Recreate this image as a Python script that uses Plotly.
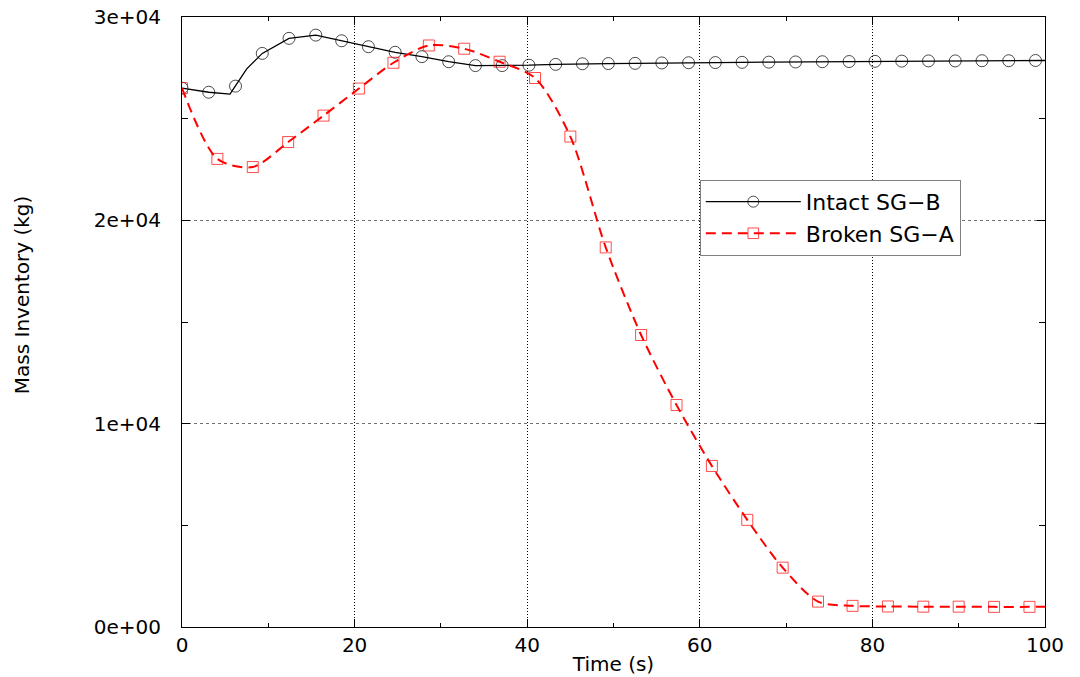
import plotly.graph_objects as go

# ---- data ----
# Intact SG-B (black, circles); marker size 0 = point on the line without a marker
t_intact = [0, 3.1, 5.56, 6.2, 7.5, 9.3, 12.4, 15.5, 18.5, 21.6, 24.7, 27.8, 30.9,
            34.0, 37.1, 40.2, 43.3, 46.4, 49.4, 52.5, 55.6, 58.7, 61.8, 64.9,
            68.0, 71.1, 74.2, 77.3, 80.3, 83.4, 86.5, 89.6, 92.7, 95.8, 98.9, 100]
m_intact = [26500, 26300, 26210, 26600, 27450, 28210, 28950, 29110, 28830, 28540,
            28265, 28050, 27800, 27610, 27610, 27630, 27670, 27700, 27710, 27720,
            27740, 27750, 27760, 27770, 27780, 27790, 27800, 27810, 27820, 27830,
            27840, 27840, 27850, 27850, 27860, 27860]
show_intact = [1, 1, 0, 1, 0] + [1] * 30 + [0]

# Broken SG-A (red, squares)
t_broken = [0, 4.1, 8.2, 12.3, 16.4, 20.5, 24.5, 28.6, 32.7, 36.8, 40.9, 45.0,
            49.1, 53.2, 57.3, 61.4, 65.5, 69.6, 73.7, 77.7, 81.8, 85.9, 90.0,
            94.1, 98.2, 100]
m_broken = [26500, 23020, 22620, 23850, 25150, 26480, 27750, 28600, 28440, 27800,
            27000, 24120, 18670, 14360, 10920, 7920, 5270, 2920, 1250, 1040, 1010,
            1000, 1000, 990, 990, 990]
show_broken = [1] * 25 + [0]

x_ticks = [0, 20, 40, 60, 80, 100]
x_minor = [10, 30, 50, 70, 90]
y_ticks = [0, 10000, 20000, 30000]
y_ticktext = ["0e+00", "1e+04", "2e+04", "3e+04"]
y_minor = [5000, 15000, 25000]

FONT = "DejaVu Sans"

fig = go.Figure()
fig.add_trace(go.Scatter(
    x=t_intact, y=m_intact, name="Intact SG\u2212B", mode="lines+markers",
    line=dict(color="black", width=1.3),
    marker=dict(symbol="circle-open", size=[12 * s for s in show_intact],
                color="black", line=dict(width=1, color="black")),
))
fig.add_trace(go.Scatter(
    x=t_broken, y=m_broken, name="Broken SG\u2212A", mode="lines+markers",
    line=dict(color="red", width=2, dash="10px,6px", shape="spline", smoothing=0.8),
    marker=dict(symbol="square-open", size=[11 * s for s in show_broken],
                color="red", line=dict(width=1, color="red")),
))

fig.update_layout(
    width=1080, height=677,
    margin=dict(l=182, r=35, t=17, b=50, autoexpand=False),
    paper_bgcolor="white", plot_bgcolor="white",
    font=dict(family=FONT, size=20, color="black"),
    showlegend=True,
    legend=dict(x=0.6, y=0.733, xanchor="left", yanchor="top",
                bgcolor="white", bordercolor="#808080", borderwidth=1,
                font=dict(family=FONT, size=22), itemwidth=95,
                tracegroupgap=0),
    xaxis=dict(range=[0, 100], tickvals=x_ticks, ticks="inside", ticklen=8,
               tickcolor="black", showline=True, linecolor="black", linewidth=1,
               mirror="ticks", showgrid=True, gridcolor="black", griddash="1px,2px",
               gridwidth=1, zeroline=False, automargin=False,
               minor=dict(tickvals=x_minor, ticks="inside", ticklen=4,
                          tickcolor="black", showgrid=False),
               tickfont=dict(family=FONT, size=20),
               title=dict(text="Time (s)", font=dict(family=FONT, size=20),
                          standoff=0)),
    yaxis=dict(range=[0, 30000], tickvals=y_ticks, ticktext=y_ticktext,
               ticks="inside", ticklen=8, tickcolor="black", showline=True,
               linecolor="black", linewidth=1, mirror="ticks", showgrid=True,
               gridcolor="#707070", griddash="3px,3px", gridwidth=1, zeroline=False,
               automargin=False,
               minor=dict(tickvals=y_minor, ticks="inside", ticklen=6,
                          tickcolor="black", showgrid=False),
               tickfont=dict(family=FONT, size=20), ticklabelstandoff=16),
    annotations=[dict(text="Mass Inventory (kg)", xref="paper", yref="paper",
                      x=-0.1854, y=0.544, xanchor="center", yanchor="middle",
                      textangle=-90, showarrow=False,
                      font=dict(family=FONT, size=20))],
)

fig.write_html("out.html")
